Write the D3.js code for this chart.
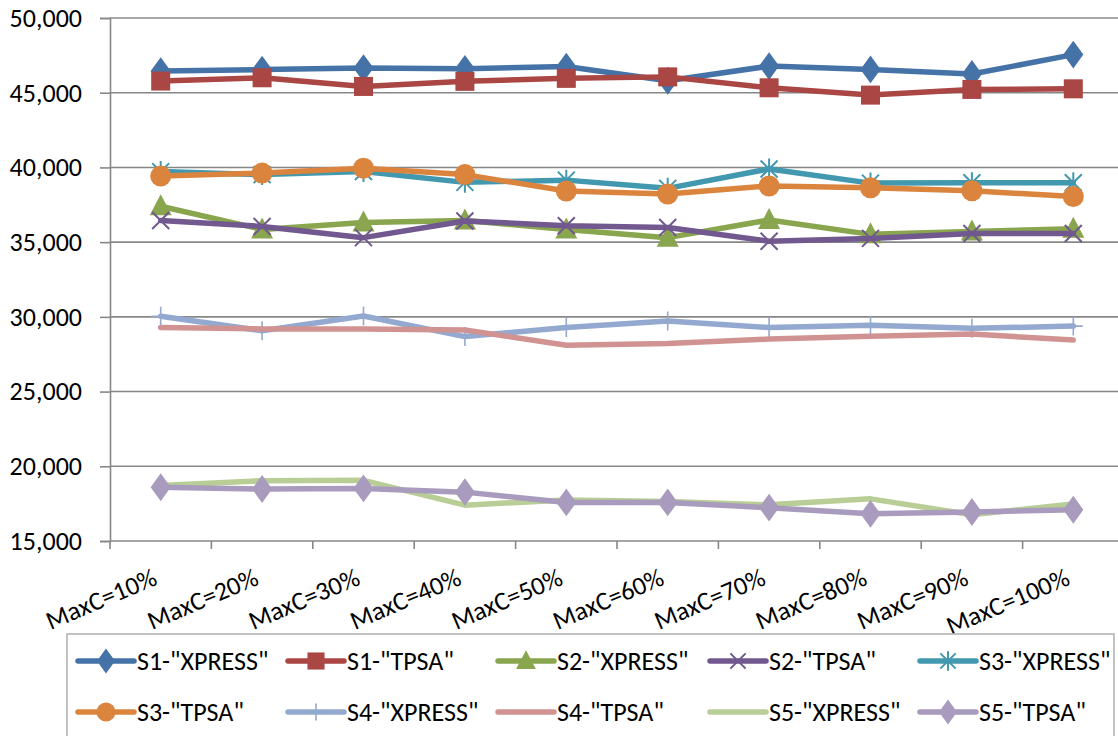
<!DOCTYPE html>
<html>
<head>
<meta charset="utf-8">
<script src="https://cdn.jsdelivr.net/npm/d3@7"></script>
<style>
  html, body { margin: 0; padding: 0; background: #fff; }
  svg { display: block; font-family: Carlito, Lato, "Open Sans", sans-serif; }
</style>
</head>
<body>
<svg id="chart" width="1118" height="736"></svg>
<script>
const categories = ["MaxC=10%", "MaxC=20%", "MaxC=30%", "MaxC=40%", "MaxC=50%",
                    "MaxC=60%", "MaxC=70%", "MaxC=80%", "MaxC=90%", "MaxC=100%"];
const yTicks = [15000, 20000, 25000, 30000, 35000, 40000, 45000, 50000];

const s1Xpress = [46450, 46550, 46650, 46600, 46750, 45800, 46780, 46560, 46250, 47550];
const s1Tpsa   = [45780, 46000, 45420, 45760, 45960, 46060, 45330, 44840, 45220, 45260];
const s2Xpress = [37400, 35850, 36320, 36450, 35850, 35300, 36480, 35520, 35720, 35900];
const s2Tpsa   = [36450, 36050, 35300, 36420, 36100, 35980, 35060, 35250, 35580, 35580];
const s3Xpress = [39720, 39520, 39730, 39000, 39150, 38600, 39900, 38950, 38980, 38980];
const s3Tpsa   = [39420, 39620, 39950, 39520, 38420, 38220, 38760, 38640, 38440, 38050];
const s4Xpress = [30040, 29070, 30060, 28680, 29290, 29730, 29290, 29440, 29230, 29380];
const s4Tpsa   = [29290, 29190, 29190, 29120, 28100, 28220, 28510, 28710, 28850, 28450];
const s5Xpress = [18720, 19040, 19060, 17400, 17750, 17650, 17420, 17820, 16760, 17480];
const s5Tpsa   = [18600, 18480, 18520, 18270, 17580, 17580, 17230, 16820, 16940, 17090];

const seriesNames = ['S1-"XPRESS"', 'S1-"TPSA"', 'S2-"XPRESS"', 'S2-"TPSA"', 'S3-"XPRESS"',
                     'S3-"TPSA"', 'S4-"XPRESS"', 'S4-"TPSA"', 'S5-"XPRESS"', 'S5-"TPSA"'];
const seriesValues = [s1Xpress, s1Tpsa, s2Xpress, s2Tpsa, s3Xpress, s3Tpsa, s4Xpress, s4Tpsa, s5Xpress, s5Tpsa];
const seriesColors = ["#4572A7", "#AA4643", "#89A54E", "#71588F", "#4198AF",
                      "#DB843D", "#93A9CF", "#D19392", "#B9CD96", "#A99BBD"];
const seriesMarkers = ["diamond", "square", "triangle", "x", "star",
                       "circle", "plus", "none", "none", "diamond"];

const svg = d3.select("#chart");
const plotLeft = 110, plotRight = 1124, plotTop = 18, plotBottom = 541;
const x = d3.scaleBand().domain(categories).range([plotLeft, plotRight]);
const y = d3.scaleLinear().domain([15000, 50000]).range([plotBottom, plotTop]);
const gridColor = "#878787";
const fontSize = 26;

// gridlines
svg.append("g").selectAll("line").data(yTicks).join("line")
  .attr("x1", plotLeft).attr("x2", 1118)
  .attr("y1", d => y(d)).attr("y2", d => y(d))
  .attr("stroke", gridColor).attr("stroke-width", 1.6);

// y axis
const yAxis = svg.append("g").attr("transform", `translate(${plotLeft},0)`)
  .call(d3.axisLeft(y).tickValues(yTicks).tickSize(10).tickPadding(18)
        .tickFormat(d3.format(",")));
yAxis.select(".domain").attr("stroke", gridColor).attr("stroke-width", 1.6);
yAxis.selectAll(".tick line").attr("stroke", gridColor).attr("stroke-width", 1.6);
yAxis.selectAll(".tick text").attr("font-size", fontSize).attr("fill", "#000")
  .attr("font-family", "Carlito, Lato, sans-serif");

// x axis ticks at band boundaries
const boundaries = d3.range(categories.length + 1);
svg.append("g").selectAll("line").data(boundaries).join("line")
  .attr("x1", i => plotLeft + i * x.step()).attr("x2", i => plotLeft + i * x.step())
  .attr("y1", plotBottom).attr("y2", plotBottom + 8)
  .attr("stroke", gridColor).attr("stroke-width", 1.6);

// x labels
svg.append("g").selectAll("text").data(categories).join("text")
  .attr("transform", d => `translate(${x(d) + x.bandwidth() / 2 - 2},584) rotate(-23)`)
  .attr("text-anchor", "end")
  .attr("font-size", fontSize).attr("fill", "#000")
  .text(d => d);

// marker drawing
function drawMarker(g, type, color, size) {
  const s = size;
  if (type === "diamond") {
    g.append("path").attr("d", d3.symbol(d3.symbolDiamond, s * s * 0.62)())
      .attr("transform", "scale(1.25,1)").attr("fill", color);
  } else if (type === "square") {
    g.append("rect").attr("x", -s / 2).attr("y", -s / 2).attr("width", s).attr("height", s)
      .attr("fill", color);
  } else if (type === "triangle") {
    g.append("path").attr("d", `M0,${-s * 0.6}L${s * 0.55},${s * 0.45}L${-s * 0.55},${s * 0.45}Z`)
      .attr("fill", color);
  } else if (type === "circle") {
    g.append("circle").attr("r", s / 2).attr("fill", color);
  } else if (type === "x") {
    const h = s / 2;
    g.append("path").attr("d", `M${-h},${-h}L${h},${h}M${-h},${h}L${h},${-h}`)
      .attr("stroke", color).attr("stroke-width", 2).attr("fill", "none");
  } else if (type === "star") {
    const h = s / 2;
    g.append("path").attr("d", `M${-h},${-h}L${h},${h}M${-h},${h}L${h},${-h}M0,${-h - 2}L0,${h + 2}`)
      .attr("stroke", color).attr("stroke-width", 2).attr("fill", "none");
  } else if (type === "plus") {
    const h = s / 2;
    g.append("path").attr("d", `M0,${-h}L0,${h}M${-h},0L${h},0`)
      .attr("stroke", color).attr("stroke-width", 1.6).attr("fill", "none");
  }
}
const markerSize = { diamond: 19, square: 19, triangle: 20, circle: 21, x: 17, star: 17, plus: 19, none: 0 };

const line = d3.line().x((d, i) => x(categories[i]) + x.bandwidth() / 2).y(d => y(d));

seriesValues.forEach((vals, si) => {
  const g = svg.append("g");
  g.append("path").datum(vals).attr("d", line)
    .attr("fill", "none").attr("stroke", seriesColors[si]).attr("stroke-width", 5.5)
    .attr("stroke-linejoin", "round").attr("stroke-linecap", "round");
  if (seriesMarkers[si] !== "none") {
    vals.forEach((v, i) => {
      const mg = g.append("g")
        .attr("transform", `translate(${x(categories[i]) + x.bandwidth() / 2},${y(v)})`);
      drawMarker(mg, seriesMarkers[si], seriesColors[si], markerSize[seriesMarkers[si]]);
    });
  }
});

// legend
const legend = svg.append("g");
legend.append("rect").attr("x", 67).attr("y", 634).attr("width", 1047).attr("height", 120)
  .attr("fill", "#fff").attr("stroke", "#b3b3b3").attr("stroke-width", 1.6);
const colX = [78, 288, 498, 710, 920];
const rowY = [661, 712];
seriesNames.forEach((name, si) => {
  const cx = colX[si % 5], cy = rowY[Math.floor(si / 5)];
  const lg = legend.append("g").attr("transform", `translate(${cx},${cy})`);
  lg.append("line").attr("x1", 0).attr("x2", 56).attr("y1", 0).attr("y2", 0)
    .attr("stroke", seriesColors[si]).attr("stroke-width", 5.5).attr("stroke-linecap", "round");
  if (seriesMarkers[si] !== "none") {
    const mg = lg.append("g").attr("transform", "translate(28,0)");
    drawMarker(mg, seriesMarkers[si], seriesColors[si], markerSize[seriesMarkers[si]] * 0.9);
  }
  lg.append("text").attr("x", 59).attr("y", 0).attr("dy", "0.35em")
    .attr("font-size", fontSize).attr("fill", "#000").text(name);
});
</script>
</body>
</html>
